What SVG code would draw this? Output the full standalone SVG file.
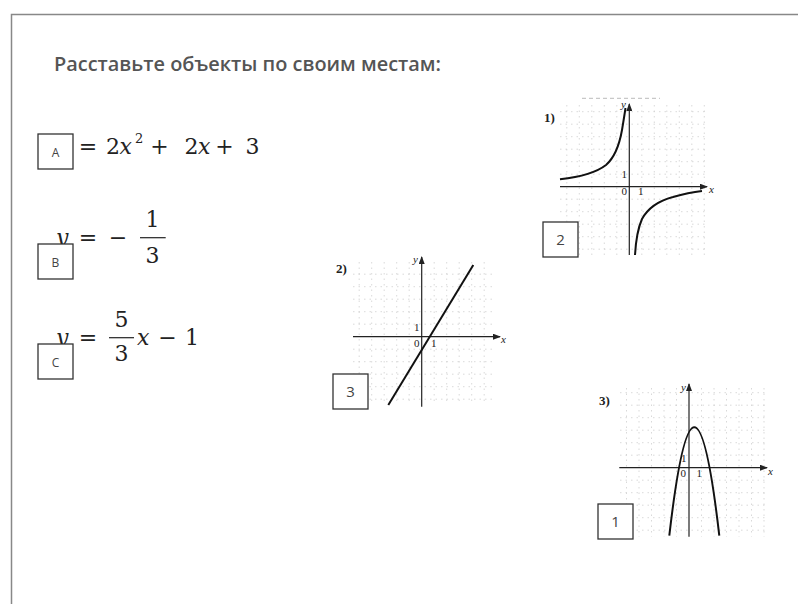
<svg xmlns="http://www.w3.org/2000/svg" width="798" height="604" viewBox="0 0 798 604">
<style>
.title{font-family:"Open Sans","Liberation Sans",sans-serif;font-weight:600;font-size:19.5px;fill:#555}
.m{font-family:"DejaVu Serif","Liberation Serif",serif;font-size:22px;fill:#222}
.mi{font-style:italic}
.mid{text-anchor:middle}
.frac{stroke:#222;stroke-width:1.2}
.box rect{fill:#fff;stroke:#333;stroke-width:1.3}
.box text{font-family:"Open Sans","Liberation Sans",sans-serif;fill:#444;text-anchor:middle}
.bl{font-size:12px}
.bn{font-size:15px}
.grid{fill:none;stroke:#cfcfcf;stroke-width:0.8;stroke-dasharray:1.5 4}
.axis{fill:none;stroke:#222;stroke-width:1.2;marker-end:url(#arr)}
.curve{fill:none;stroke:#111;stroke-width:2}
.gl{font-family:"Liberation Serif","DejaVu Serif",serif;font-size:11px;fill:#222}
.gn{font-family:"Liberation Serif","DejaVu Serif",serif;font-size:13px;font-weight:bold;fill:#222}
</style>
<defs>
<marker id="arr" viewBox="0 0 8 6" refX="7" refY="3" markerWidth="8" markerHeight="6" markerUnits="userSpaceOnUse" orient="auto">
<path d="M0,0 L8,3 L0,6 z" fill="#222"/>
</marker>
</defs>
<rect width="798" height="604" fill="#fff"/>
<path d="M11.5,604 V14.5 H798" fill="none" stroke="#888" stroke-width="1.5"/>

<g id="title"><text class="title" x="54" y="71" textLength="387" lengthAdjust="spacingAndGlyphs">Расставьте объекты по своим местам:</text></g>

<g id="eq-A">
<text class="m mid" x="88" y="153.5">=</text>
<text class="m" x="106" y="153.5">2</text>
<text class="m mi" x="119.5" y="153.5">x</text>
<text class="m" x="135" y="143" style="font-size:13px">2</text>
<text class="m mid" x="159.5" y="153.5">+</text>
<text class="m" x="184.5" y="153.5">2</text>
<text class="m mi" x="198" y="153.5">x</text>
<text class="m mid" x="224.5" y="153.5">+</text>
<text class="m" x="245.5" y="153.5">3</text>
</g>

<g id="eq-B">
<text class="m mi" x="56" y="244.5">y</text>
<text class="m mid" x="88" y="244.5">=</text>
<text class="m mid" x="118" y="244.5">−</text>
<line class="frac" x1="140" y1="237.7" x2="165.7" y2="237.7"/>
<text class="m mid" x="152.5" y="226.7">1</text>
<text class="m mid" x="152.5" y="262.7">3</text>
</g>

<g id="eq-C">
<text class="m mi" x="56" y="344.5">y</text>
<text class="m mid" x="88" y="344.5">=</text>
<line class="frac" x1="109" y1="337.7" x2="134" y2="337.7"/>
<text class="m mid" x="121.5" y="326.7">5</text>
<text class="m mid" x="121.5" y="360.7">3</text>
<text class="m mi" x="137" y="345">x</text>
<text class="m mid" x="167.5" y="345">−</text>
<text class="m" x="185" y="345">1</text>
</g>

<g id="graph-1">
<path d="M582,98.3 H660" fill="none" stroke="#bbb" stroke-width="1" stroke-dasharray="4 3"/>
<path class="grid" d="M566.8,105V255M579.3,105V255M591.8,105V255M604.3,105V255M616.8,105V255M641.8,105V255M654.3,105V255M666.8,105V255M679.3,105V255M691.8,105V255M704.3,105V255M560,111.7H705M560,124.2H705M560,136.7H705M560,149.2H705M560,161.7H705M560,174.2H705M560,199.2H705M560,211.7H705M560,224.2H705M560,236.7H705M560,249.2H705"/>
<path class="axis" d="M560,186.7 H707"/>
<path class="axis" d="M629.3,255 V104"/>
<path class="curve" d="M560,179.3 C580,177 597,172 606,165 C614,158 619,147 622,130 C623.5,121 624.5,115 625.5,108"/>
<path class="curve" d="M635,255 C636,238 638,228 642,219 C648,208 658,201 673,197 C685,193.5 693,192 702,191"/>
<text class="gn" x="544" y="121.5">1)</text>
<text class="gl mi" x="621" y="108">y</text>
<text class="gl mi" x="709" y="193">x</text>
<text class="gl" x="621.5" y="194.5">0</text>
<text class="gl" x="638" y="194.5">1</text>
<text class="gl" x="621.5" y="178">1</text>
</g>

<g id="graph-2">
<path class="grid" d="M359.2,262V405M371.7,262V405M384.2,262V405M396.7,262V405M409.2,262V405M434.2,262V405M446.7,262V405M459.2,262V405M471.7,262V405M484.2,262V405M353,274.2H495M353,286.7H495M353,299.2H495M353,311.7H495M353,324.2H495M353,349.2H495M353,361.7H495M353,374.2H495M353,386.7H495M353,399.2H495"/>
<path class="axis" d="M353,336.7 H500"/>
<path class="axis" d="M421.7,406.7 V257"/>
<path class="curve" d="M388.3,405 L473.3,265"/>
<text class="gn" x="336" y="273.3">2)</text>
<text class="gl mi" x="413" y="263">y</text>
<text class="gl mi" x="501" y="343">x</text>
<text class="gl" x="414" y="347">0</text>
<text class="gl" x="431" y="347">1</text>
<text class="gl" x="414" y="331">1</text>
</g>

<g id="graph-3">
<path class="grid" d="M626.5,388V537M639,388V537M651.5,388V537M664,388V537M676.5,388V537M701.5,388V537M714,388V537M726.5,388V537M739,388V537M751.5,388V537M764,388V537M620,392.7H765M620,405.2H765M620,417.7H765M620,430.2H765M620,442.7H765M620,455.2H765M620,480.2H765M620,492.7H765M620,505.2H765M620,517.7H765M620,530.2H765"/>
<path class="axis" d="M619.3,467.7 H767"/>
<path class="axis" d="M689,536.7 V384"/>
<path class="curve" d="M669.3,535.7 Q694.3,318.9 719.3,535.7"/>
<text class="gn" x="599" y="405">3)</text>
<text class="gl mi" x="681" y="391">y</text>
<text class="gl mi" x="768" y="475">x</text>
<text class="gl" x="680.5" y="477">0</text>
<text class="gl" x="696.5" y="477">1</text>
<text class="gl" x="681" y="462">1</text>
</g>

<g id="box-A" class="box"><rect x="38" y="134" width="35" height="35"/><text class="bl" x="55.5" y="156.5">A</text></g>
<g id="box-B" class="box"><rect x="38" y="244" width="35" height="35"/><text class="bl" x="55.5" y="266.5">B</text></g>
<g id="box-C" class="box"><rect x="38" y="344" width="35" height="35"/><text class="bl" x="55.5" y="366.5">C</text></g>
<g id="box-2" class="box"><rect x="543" y="222" width="35" height="35"/><text class="bn" x="560.5" y="245">2</text></g>
<g id="box-3" class="box"><rect x="333" y="374" width="35" height="35"/><text class="bn" x="350.5" y="397">3</text></g>
<g id="box-1" class="box"><rect x="598" y="504" width="35" height="35"/><text class="bn" x="615.5" y="527">1</text></g>
</svg>
